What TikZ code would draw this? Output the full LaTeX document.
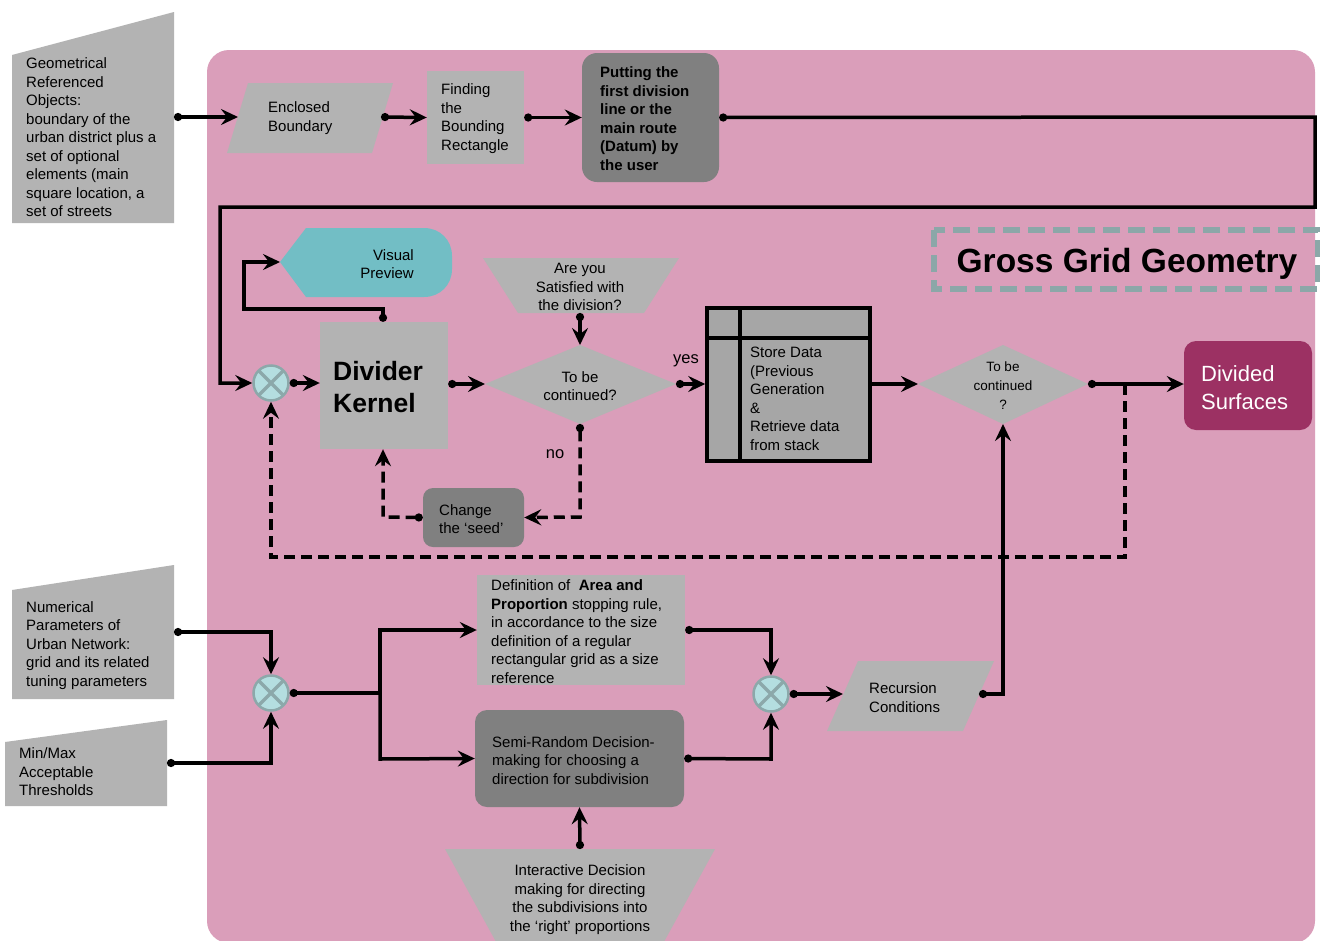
\documentclass[tikz,border=0pt]{standalone}
\usepackage{fontspec}
\setmainfont{Liberation Sans}
\usetikzlibrary{arrows.meta}
\definecolor{bgpink}{RGB}{218,158,186}
\definecolor{lgray}{RGB}{179,179,179}
\definecolor{dgray}{RGB}{128,128,128}
\definecolor{sgray}{RGB}{166,166,166}
\definecolor{tealp}{RGB}{114,190,197}
\definecolor{juncfill}{RGB}{180,222,224}
\definecolor{juncline}{RGB}{140,168,170}
\definecolor{magp}{RGB}{156,49,99}
\definecolor{dashc}{RGB}{139,167,168}
\begin{document}
\begin{tikzpicture}[x=1pt,y=-1pt,
  txt/.style={inner sep=0pt, font=\fontsize{15}{18.5}\selectfont, align=left, text=black},
  rbox/.style={rectangle, inner sep=0pt, draw=none},
  conn/.style={line width=3.5pt, {Circle[length=8pt]}-{Stealth[length=17pt,width=16pt,inset=6pt]}},
  conn0/.style={line width=3.5pt, -{Stealth[length=17pt,width=16pt,inset=6pt]}},
  dsh/.style={dash pattern=on 11pt off 6pt},
  junc/.style={circle, minimum size=35pt, inner sep=0pt, fill=juncfill, draw=juncline, line width=2.5pt,
    path picture={\draw[juncline, line width=3.5pt]
      ([shift={(-13,-13)}]path picture bounding box.center) -- ([shift={(13,13)}]path picture bounding box.center)
      ([shift={(-13,13)}]path picture bounding box.center) -- ([shift={(13,-13)}]path picture bounding box.center);}}
]
\useasboundingbox (0,0) rectangle (1320,940);
\clip (0,0) rectangle (1320,940);
\fill[white] (0,0) rectangle (1320,940);
% background panel
\fill[bgpink, rounded corners=22pt] (207,50) rectangle (1315,943);

% ---- input shapes (left)
\fill[lgray] (12,55) -- (174,12) -- (174,223) -- (12,223) -- cycle;
\node[txt, anchor=west] (geo) at (26,137.5) {Geometrical\\Referenced\\Objects:\\boundary of the\\urban district plus a\\set of optional\\elements (main\\square location, a\\set of streets};
\coordinate (geoOut) at (174,117);

\fill[lgray] (12,590) -- (174,565) -- (174,699) -- (12,699) -- cycle;
\node[txt, anchor=west] (num) at (26,645.5) {Numerical\\Parameters of\\Urban Network:\\grid and its related\\tuning parameters};
\coordinate (numOut) at (174,632);

\fill[lgray] (5,742) -- (167,720) -- (167,806) -- (5,806) -- cycle;
\node[txt, anchor=west] (mm) at (19,772) {Min/Max\\Acceptable\\Thresholds};
\coordinate (mmOut) at (167,763);

% ---- top row
\fill[lgray] (248,83) -- (393,83) -- (372,153) -- (227,153) -- cycle;
\node[txt, anchor=west] (enc) at (268,118) {Enclosed\\Boundary};
\coordinate (encIn) at (238,117);
\coordinate (encOut) at (381,117);

\node[rbox, fill=lgray, minimum width=97pt, minimum height=93pt] (find) at (475.5,117.5) {};
\node[txt, anchor=west] (findt) at (441,118.5) {Finding\\the\\Bounding\\Rectangle};

\node[rbox, fill=dgray, rounded corners=15pt, minimum width=137pt, minimum height=129pt] (put) at (650.5,117.5) {};
\node[txt, anchor=west, font=\fontsize{15}{18.5}\selectfont\bfseries] (putt) at (600,118.5) {Putting the\\first division\\line or the\\main route\\(Datum) by\\the user};

% ---- middle row
\node[junc] (j1) at (271,383) {};

\node[rbox, fill=lgray, minimum width=128pt, minimum height=127pt] (kern) at (384,385.5) {};
\node[txt, anchor=west, font=\fontsize{26.5}{32}\selectfont\bfseries] (kernt) at (333,387) {Divider\\Kernel};

\fill[tealp] (280,262) -- (306,228) -- (424,228) .. controls (440,228) and (452,240) .. (452,256) -- (452,269) .. controls (452,285) and (440,297) .. (424,297) -- (306,297) -- cycle;
\node[txt, anchor=east, align=right] (vis) at (414,264) {Visual\\Preview};
\coordinate (visIn) at (280,262);

\fill[lgray] (483,258) -- (679,258) -- (644,313) -- (518,313) -- cycle;
\node[txt, anchor=center, align=center] (sat) at (580,287) {Are you\\Satisfied with\\the division?};
\coordinate (satOut) at (580,313);

\fill[lgray] (485,384) -- (580,345) -- (676,384) -- (580,424) -- cycle;
\node[txt, anchor=center, align=center] (d1) at (580,386) {To be\\continued?};
\coordinate (d1L) at (485,384);
\coordinate (d1R) at (676,384);
\coordinate (d1T) at (580,345);
\coordinate (d1B) at (580,424);

\node[txt, anchor=center, font=\fontsize{16.5}{19}\selectfont] (yes) at (686,361) {yes};
\node[txt, anchor=center, font=\fontsize{16.5}{19}\selectfont] (no) at (555,454) {no};

\node[rbox, fill=dgray, rounded corners=10pt, minimum width=101pt, minimum height=59pt] (seed) at (473.5,517.5) {};
\node[txt, anchor=west] (seedt) at (439,519) {Change\\the ‘seed’};

\node[rbox, fill=sgray, draw=black, line width=3.5pt, minimum width=163pt, minimum height=153pt] (store) at (788.5,384.5) {};
\draw[line width=3.5pt] (740,308) -- (740,461);
\draw[line width=3.5pt] (707,338) -- (870,338);
\node[txt, anchor=west] (storet) at (750,399) {Store Data\\(Previous\\Generation\\\&\\Retrieve data\\from stack};

\fill[lgray] (918,384) -- (1003,345) -- (1088,384) -- (1003,424) -- cycle;
\node[txt, anchor=center, align=center, font=\fontsize{13.5}{19}\selectfont] (d2) at (1003,386) {To be\\continued\\?};
\coordinate (d2L) at (918,384);
\coordinate (d2R) at (1088,384);
\coordinate (d2B) at (1003,424);

\node[rbox, fill=magp, rounded corners=12pt, minimum width=128pt, minimum height=89pt] (divs) at (1248,385.5) {};
\node[txt, anchor=west, text=white, font=\fontsize{22}{28}\selectfont] (divst) at (1201,388) {Divided\\Surfaces};

\draw[dashc, line width=5.5pt, dash pattern=on 17pt off 8pt] (934,230) rectangle (1318,289);
\node[txt, anchor=center, font=\fontsize{33.5}{36}\selectfont\bfseries] (ggg) at (1127,264) {Gross Grid Geometry};

% ---- lower part
\node[junc] (j2) at (271,693) {};
\node[rbox, fill=lgray, minimum width=208pt, minimum height=110pt] (defn) at (581,630) {};
\node[txt, anchor=west] (defnt) at (491,631.5) {Definition of \ \textbf{Area and}\\\textbf{Proportion} stopping rule,\\in accordance to the size\\definition of a regular\\rectangular grid as a size\\reference};

\node[rbox, fill=dgray, rounded corners=12pt, minimum width=209pt, minimum height=97pt] (semi) at (579.5,758.5) {};
\node[txt, anchor=west] (semit) at (492,760.5) {Semi-Random Decision-\\making for choosing a\\direction for subdivision};

\fill[lgray] (445,849) -- (715,849) -- (654,960) -- (506,960) -- cycle;
\node[txt, anchor=center, align=center] (inter) at (580,899.5) {Interactive Decision\\making for directing\\the subdivisions into\\the ‘right’ proportions};
\coordinate (interOut) at (580,849);

\node[junc] (j3) at (771,694) {};

\fill[lgray] (858,661) -- (994,661) -- (963,731) -- (827,731) -- cycle;
\node[txt, anchor=west] (rec) at (869,697.5) {Recursion\\Conditions};
\coordinate (recIn) at (843,694);
\coordinate (recOut) at (979,694);

% ---- connectors
\draw[conn] (geoOut) -- (encIn);
\draw[conn] (encOut) -- (find.west);
\draw[conn] (find.east) -- (put.west);
\draw[conn] (put.east) -- (1315,117) -- (1315,207) -- (220,207) -- (220,383) -- (j1.west);
\draw[conn] (j1.east) -- (kern.west |- j1.east);
\draw[conn] (kern.north -| 383,0) -- (383,309) -- (244,309) -- (244,262) -- (visIn);
\draw[conn] (satOut) -- (d1T);
\draw[conn] (kern.east |- d1L) -- (d1L);
\draw[conn] (d1R) -- (store.west |- d1R);
\draw[conn, dsh] (d1B) -- (580,517) -- (seed.east);
\draw[conn, dsh] (seed.west) -- (383,517) -- (kern.south -| 383,0);
\draw[conn0] (store.east |- d2L) -- (d2L);
\draw[conn] (d2R) -- (divs.west |- d2R);
\draw[conn0, dsh] (1125,384) -- (1125,557) -- (271,557) -- (j1.south);
\draw[conn] (numOut) -- (271,632) -- (j2.north);
\draw[conn] (mmOut) -- (271,763) -- (j2.south);
\draw[conn] (j2.east) -- (380,693) -- (380,630) -- (defn.west);
\draw[conn0] (380,693) -- (380,759) -- (semi.west);
\draw[conn] (defn.east) -- (771,630) -- (j3.north);
\draw[conn] (semi.east) -- (771,759) -- (j3.south);
\draw[conn] (j3.east) -- (recIn);
\draw[conn] (recOut) -- (1003,694) -- (d2B);
\draw[conn] (interOut) -- (semi.south);
\end{tikzpicture}
\end{document}
